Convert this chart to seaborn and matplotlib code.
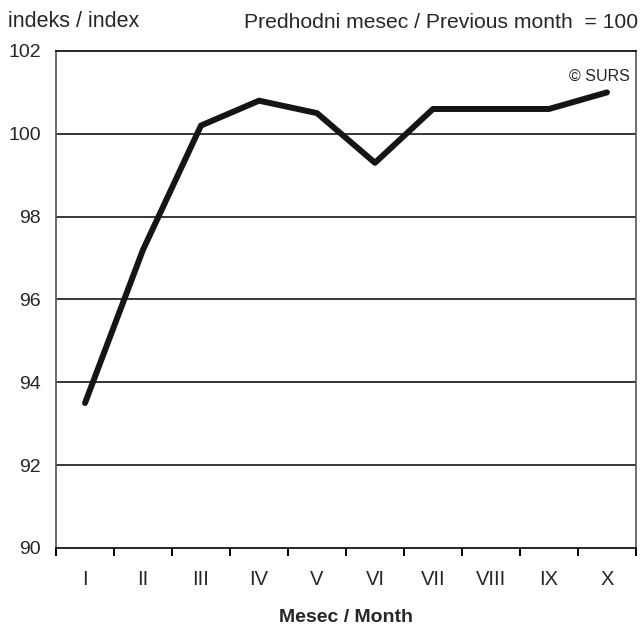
import matplotlib

matplotlib.use("Agg")

import matplotlib.pyplot as plt
import numpy as np
import pandas as pd
import seaborn as sns

MONTHS = ["I", "II", "III", "IV", "V", "VI", "VII", "VIII", "IX", "X"]
INDEX_VALUES = [93.5, 97.2, 100.2, 100.8, 100.5, 99.3, 100.6, 100.6, 100.6, 101.0]
Y_TICKS = [90, 92, 94, 96, 98, 100, 102]


def main() -> None:
    sns.set_theme(style="white")
    plt.rcParams["font.family"] = ["Liberation Sans", "DejaVu Sans"]

    data = pd.DataFrame({"month": MONTHS, "index": INDEX_VALUES})
    data["pos"] = np.arange(len(MONTHS))

    fig = plt.figure(figsize=(6.4, 6.28), dpi=100)
    # plot area: x 56..636, y 51..548 px
    axis = fig.add_axes([0.0875, 0.1274, 0.9062, 0.7914])

    for value in Y_TICKS[1:-1]:
        axis.axhline(value, color="black", linewidth=1.1, zorder=1)

    sns.lineplot(
        data=data,
        x="pos",
        y="index",
        color="#151515",
        linewidth=4.3,
        ax=axis,
        zorder=3,
    )

    axis.set_xlim(-0.5, len(MONTHS) - 0.5)
    axis.set_ylim(90, 102)
    axis.set_yticks(Y_TICKS)
    axis.set_yticklabels([str(v) for v in Y_TICKS], fontsize=14)
    axis.tick_params(axis="y", length=0, pad=11)

    axis.set_xticks(data["pos"])
    axis.set_xticklabels(MONTHS, fontsize=14.5)
    axis.tick_params(axis="x", which="major", length=0, pad=16)
    axis.set_xticks(np.arange(len(MONTHS) + 1) - 0.5, minor=True)
    axis.tick_params(axis="x", which="minor", length=6, width=1.4, color="black",
                     direction="out", bottom=True)

    axis.set_xlabel("Mesec / Month", fontsize=14, fontweight="bold")
    axis.xaxis.label.set_va("center")
    axis.xaxis.set_label_coords(0.5, -0.139)
    axis.set_ylabel("")

    for side in ["top", "bottom"]:
        axis.spines[side].set_color("black")
        axis.spines[side].set_linewidth(1.2)
    for side in ["left", "right"]:
        axis.spines[side].set_color("#555555")
        axis.spines[side].set_linewidth(1.2)

    axis.text(0.99, 0.965, "© SURS", transform=axis.transAxes, ha="right",
              va="top", fontsize=11.5)
    fig.text(0.012, 0.966, "indeks / index", ha="left", va="center", fontsize=15.5)
    fig.text(0.997, 0.964, "Predhodni mesec / Previous month  = 100", ha="right",
             va="center", fontsize=15.2)

    fig.savefig("out.png", dpi=100, facecolor="white")
    plt.close(fig)


if __name__ == "__main__":
    main()
